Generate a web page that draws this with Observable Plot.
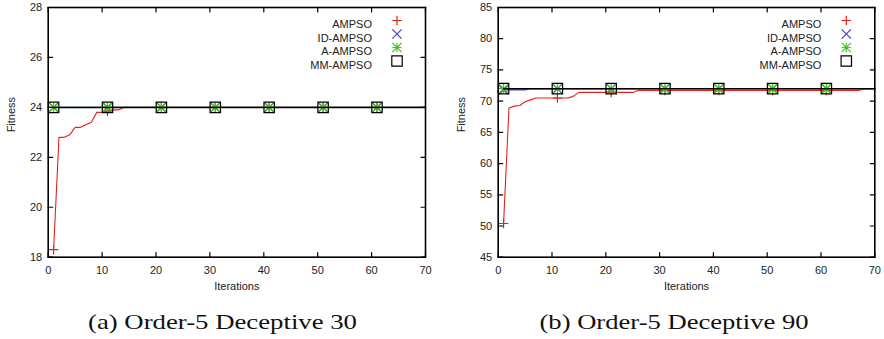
<!DOCTYPE html>
<html>
<head>
<meta charset="utf-8">
<script src="https://cdn.jsdelivr.net/npm/d3@7"></script>
<script src="https://cdn.jsdelivr.net/npm/@observablehq/plot@0.6"></script>
<style>
html, body { margin: 0; padding: 0; background: #fff; }
#wrap { position: relative; width: 884px; height: 339px; overflow: hidden; background: #fff; }
.panel { position: absolute; top: 0; }
#caps { position: absolute; left: 0; top: 300px; }
</style>
</head>
<body>
<div id="wrap"></div>
<script>
// ---------- data ----------
const iterations = Array.from({length: 70}, (_, i) => i + 1);
const seriesNames = ["AMPSO", "ID-AMPSO", "A-AMPSO", "MM-AMPSO"];
const seriesColors = ["#e2231c", "#4a3eb6", "#42c41e", "#000000"];
const xTicks = [0, 10, 20, 30, 40, 50, 60, 70];
const yTicks30 = [18, 20, 22, 24, 26, 28];
const yTicks90 = [45, 50, 55, 60, 65, 70, 75, 80, 85];
const captions = ["(a) Order-5 Deceptive 30", "(b) Order-5 Deceptive 90"];

// Order-5 Deceptive 30
const ampso30 = [
  18.3, 22.8, 22.8, 22.9, 23.2, 23.2, 23.3, 23.4, 23.8, 23.8,
  23.85, 23.9, 23.9, 24, 24, 24, 24, 24, 24, 24,
  24, 24, 24, 24, 24, 24, 24, 24, 24, 24,
  24, 24, 24, 24, 24, 24, 24, 24, 24, 24,
  24, 24, 24, 24, 24, 24, 24, 24, 24, 24,
  24, 24, 24, 24, 24, 24, 24, 24, 24, 24,
  24, 24, 24, 24, 24, 24, 24, 24, 24, 24
];
const idampso30 = [
  24, 24, 24, 24, 24, 24, 24, 24, 24, 24,
  24, 24, 24, 24, 24, 24, 24, 24, 24, 24,
  24, 24, 24, 24, 24, 24, 24, 24, 24, 24,
  24, 24, 24, 24, 24, 24, 24, 24, 24, 24,
  24, 24, 24, 24, 24, 24, 24, 24, 24, 24,
  24, 24, 24, 24, 24, 24, 24, 24, 24, 24,
  24, 24, 24, 24, 24, 24, 24, 24, 24, 24
];
const aampso30 = [
  24, 24, 24, 24, 24, 24, 24, 24, 24, 24,
  24, 24, 24, 24, 24, 24, 24, 24, 24, 24,
  24, 24, 24, 24, 24, 24, 24, 24, 24, 24,
  24, 24, 24, 24, 24, 24, 24, 24, 24, 24,
  24, 24, 24, 24, 24, 24, 24, 24, 24, 24,
  24, 24, 24, 24, 24, 24, 24, 24, 24, 24,
  24, 24, 24, 24, 24, 24, 24, 24, 24, 24
];
const mmampso30 = [
  24, 24, 24, 24, 24, 24, 24, 24, 24, 24,
  24, 24, 24, 24, 24, 24, 24, 24, 24, 24,
  24, 24, 24, 24, 24, 24, 24, 24, 24, 24,
  24, 24, 24, 24, 24, 24, 24, 24, 24, 24,
  24, 24, 24, 24, 24, 24, 24, 24, 24, 24,
  24, 24, 24, 24, 24, 24, 24, 24, 24, 24,
  24, 24, 24, 24, 24, 24, 24, 24, 24, 24
];

// Order-5 Deceptive 90
const ampso90 = [
  50.4, 68.9, 69.2, 69.3, 69.9, 70.2, 70.5, 70.5, 70.5, 70.5,
  70.5, 70.5, 70.5, 70.8, 71.4, 71.4, 71.4, 71.4, 71.4, 71.4,
  71.4, 71.4, 71.4, 71.4, 71.4, 71.7, 71.7, 71.7, 71.7, 71.7,
  71.7, 71.7, 71.7, 71.7, 71.7, 71.7, 71.7, 71.7, 71.7, 71.7,
  71.7, 71.7, 71.7, 71.7, 71.7, 71.7, 71.7, 71.7, 71.7, 71.7,
  71.7, 71.7, 71.7, 71.7, 71.7, 71.7, 71.7, 71.7, 71.7, 71.7,
  71.7, 71.7, 71.7, 71.7, 71.7, 71.7, 71.7, 72, 72, 72
];
const idampso90 = [
  71.8, 71.8, 71.8, 71.8, 71.8, 72, 72, 72, 72, 72,
  72, 72, 72, 72, 72, 72, 72, 72, 72, 72,
  72, 72, 72, 72, 72, 72, 72, 72, 72, 72,
  72, 72, 72, 72, 72, 72, 72, 72, 72, 72,
  72, 72, 72, 72, 72, 72, 72, 72, 72, 72,
  72, 72, 72, 72, 72, 72, 72, 72, 72, 72,
  72, 72, 72, 72, 72, 72, 72, 72, 72, 72
];
const aampso90 = [
  72, 72, 72, 72, 72, 72, 72, 72, 72, 72,
  72, 72, 72, 72, 72, 72, 72, 72, 72, 72,
  72, 72, 72, 72, 72, 72, 72, 72, 72, 72,
  72, 72, 72, 72, 72, 72, 72, 72, 72, 72,
  72, 72, 72, 72, 72, 72, 72, 72, 72, 72,
  72, 72, 72, 72, 72, 72, 72, 72, 72, 72,
  72, 72, 72, 72, 72, 72, 72, 72, 72, 72
];
const mmampso90 = [
  72, 72, 72, 72, 72, 72, 72, 72, 72, 72,
  72, 72, 72, 72, 72, 72, 72, 72, 72, 72,
  72, 72, 72, 72, 72, 72, 72, 72, 72, 72,
  72, 72, 72, 72, 72, 72, 72, 72, 72, 72,
  72, 72, 72, 72, 72, 72, 72, 72, 72, 72,
  72, 72, 72, 72, 72, 72, 72, 72, 72, 72,
  72, 72, 72, 72, 72, 72, 72, 72, 72, 72
];

// ---------- symbols (gnuplot point types 1-4) ----------
const symPlus = {draw(c, s) { const h = Math.sqrt(s / Math.PI); c.moveTo(-h, 0); c.lineTo(h, 0); c.moveTo(0, -h); c.lineTo(0, h); }};
const symTimes = {draw(c, s) { const h = Math.sqrt(s / Math.PI); c.moveTo(-h, -h); c.lineTo(h, h); c.moveTo(-h, h); c.lineTo(h, -h); }};
const symStar = {draw(c, s) { const h = Math.sqrt(s / Math.PI); c.moveTo(-h, 0); c.lineTo(h, 0); c.moveTo(0, -h); c.lineTo(0, h); c.moveTo(-h, -h); c.lineTo(h, h); c.moveTo(-h, h); c.lineTo(h, -h); }};
const symSquare = {draw(c, s) { const h = Math.sqrt(s / Math.PI); c.rect(-h, -h, 2 * h, 2 * h); }};
const syms = [symPlus, symTimes, symStar, symSquare];
const symR = [4.8, 4.6, 4.6, 5.2];
const lineW = [1.1, 1.2, 1.2, 1.5];
const tickShape = {draw(c, l) { c.moveTo(0, 0); c.lineTo(0, -l); }};

function panel({series, yDomain, yTicks, marginLeft, marginRight}) {
  const marks = [];
  series.forEach((vals, k) => {
    const rows = iterations.map((it, i) => ({x: it, y: vals[i]}));
    marks.push(Plot.line(rows, {x: "x", y: "y", stroke: seriesColors[k], strokeWidth: lineW[k]}));
    marks.push(Plot.dot(rows.filter((d, i) => i % 10 === 0), {
      x: "x", y: "y", symbol: syms[k], r: symR[k], stroke: seriesColors[k], fill: "none", strokeWidth: 1.2
    }));
  });
  // legend (gnuplot key, top right inside)
  seriesNames.forEach((name, k) => {
    marks.push(Plot.text([name], {x: null, y: null, text: d => d, frameAnchor: "top-right", dx: -53.5, dy: 13 + k * 13.5, textAnchor: "end", fontSize: 11, fill: "#222"}));
    marks.push(Plot.dot([name], {x: null, y: null, frameAnchor: "top-right", dx: -28.5, dy: 13 + k * 13.5, symbol: syms[k], r: symR[k], stroke: seriesColors[k], fill: "none", strokeWidth: 1.2}));
  });
  // inward ticks on all four sides
  const tk = {length: 4.5, anchor: "start", shape: tickShape, stroke: "black", strokeWidth: 1.2};
  marks.push(Plot.vector(xTicks, {x: d => d, frameAnchor: "bottom", rotate: 0, ...tk}));
  marks.push(Plot.vector(xTicks, {x: d => d, frameAnchor: "top", rotate: 180, ...tk}));
  marks.push(Plot.vector(yTicks, {y: d => d, frameAnchor: "left", rotate: 90, ...tk}));
  marks.push(Plot.vector(yTicks, {y: d => d, frameAnchor: "right", rotate: -90, ...tk}));
  // tick labels
  marks.push(Plot.axisX(xTicks, {anchor: "bottom", tickSize: 0, tickPadding: 9, fontSize: 11, label: null, fill: "#222"}));
  marks.push(Plot.axisY(yTicks, {anchor: "left", tickSize: 0, tickPadding: 6, fontSize: 11, label: null, fill: "#222"}));
  // axis titles
  marks.push(Plot.text(["Iterations"], {x: null, y: null, text: d => d, frameAnchor: "bottom", dy: 33, fontSize: 11, fill: "#222"}));
  marks.push(Plot.text(["Fitness"], {x: null, y: null, text: d => d, frameAnchor: "left", dx: -37, rotate: -90, fontSize: 11, fill: "#222"}));
  marks.push(Plot.frame({stroke: "black", strokeWidth: 1.6}));

  return Plot.plot({
    width: 442, height: 300,
    marginLeft, marginRight, marginTop: 7, marginBottom: 43.3,
    x: {domain: [0, 70], label: null, axis: null},
    y: {domain: yDomain, label: null, axis: null},
    style: {fontFamily: "'Liberation Sans', Arial, sans-serif", background: "white", overflow: "visible"},
    marks
  });
}

const wrap = document.getElementById("wrap");
const p1 = panel({series: [ampso30, idampso30, aampso30, mmampso30], yDomain: [18, 28], yTicks: yTicks30, marginLeft: 47.7, marginRight: 17});
p1.classList.add("panel"); p1.style.left = "0px";
const p2 = panel({series: [ampso90, idampso90, aampso90, mmampso90], yDomain: [45, 85], yTicks: yTicks90, marginLeft: 55.7, marginRight: 9.7});
p2.classList.add("panel"); p2.style.left = "442px";
wrap.appendChild(p1);
wrap.appendChild(p2);

// captions
const caps = d3.create("svg").attr("id", "caps").attr("width", 884).attr("height", 39);
const capX = [222.5, 674];
captions.forEach((t, i) => {
  caps.append("text")
    .attr("x", capX[i]).attr("y", 28.5)
    .attr("text-anchor", "middle")
    .attr("textLength", 269).attr("lengthAdjust", "spacingAndGlyphs")
    .attr("font-family", "'Liberation Serif', 'DejaVu Serif', serif")
    .attr("font-size", 21).attr("fill", "#111")
    .text(t);
});
wrap.appendChild(caps.node());
</script>
</body>
</html>
